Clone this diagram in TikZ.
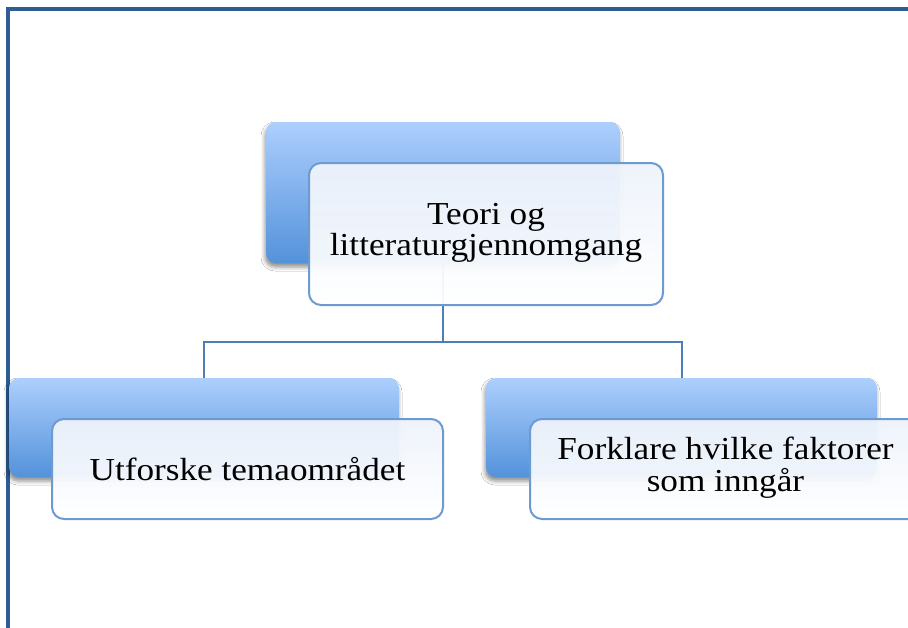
\documentclass[tikz,border=0pt]{standalone}
\usepackage{fontspec}
\setmainfont{Liberation Serif}[FakeStretch=1.1]
\usetikzlibrary{shadows.blur}

\definecolor{framecol}{HTML}{2C5D93}
\definecolor{backtop}{HTML}{ADCFFD}
\definecolor{backbot}{HTML}{5392DA}
\definecolor{frontedge}{HTML}{6D9BD0}
\definecolor{fronttop}{HTML}{EEF3FB}
\definecolor{linkcol}{HTML}{4E7EB7}

\tikzset{
  backbox/.style={rectangle, rounded corners=10pt, inner sep=0pt, outer sep=0pt,
    shade, top color=backtop, bottom color=backbot, draw=none,
    blur shadow={shadow xshift=-1pt, shadow yshift=-4pt, shadow blur radius=4pt, shadow opacity=45}},
  frontbox/.style={rectangle, rounded corners=12pt, inner sep=0pt, outer sep=0pt,
    draw=frontedge, line width=2pt,
    shade, top color=fronttop, bottom color=white, fill opacity=0.95, draw opacity=1, text opacity=1,
    align=center, font=\fontsize{32}{30}\selectfont},
  link/.style={draw=linkcol, line width=2pt},
  frame/.style={draw=framecol, line width=3.2pt}
}

\begin{document}
\begin{tikzpicture}[x=1pt, y=-1pt]
\useasboundingbox (0,0) rectangle (908,627);
\fill[white] (0,0) rectangle (908,627);

% outer page frame
\draw[frame] (8,9) rectangle (940,660);

% coordinate where the tree branches
\coordinate (hub) at (443,342);

% background tiles
\node[backbox, minimum width=354pt, minimum height=141pt] (topback) at (443,192.5) {};
\node[backbox, minimum width=390pt, minimum height=99pt] (leftback) at (204,427.5) {};
\node[backbox, minimum width=391pt, minimum height=99pt] (rightback) at (681.5,427.5) {};

% connectors
\draw[link] (topback.south) -- (hub);
\draw[link] (hub) -| (leftback.north);
\draw[link] (hub) -| (rightback.north);

% text tiles in front
\node[frontbox, minimum width=354pt, minimum height=142pt] (topfront) at (486,234)
  {\raisebox{-3pt}{\begin{tabular}{@{}c@{}}Teori og\\litteraturgjennomgang\end{tabular}}};
\node[frontbox, minimum width=391pt, minimum height=100pt] (leftfront) at (247.5,469)
  {Utforske temaområdet};
\node[frontbox, minimum width=391pt, minimum height=100pt] (rightfront) at (725.5,469)
  {\raisebox{-3pt}{\begin{tabular}{@{}c@{}}Forklare hvilke faktorer\\som inngår\end{tabular}}};
\end{tikzpicture}
\end{document}
